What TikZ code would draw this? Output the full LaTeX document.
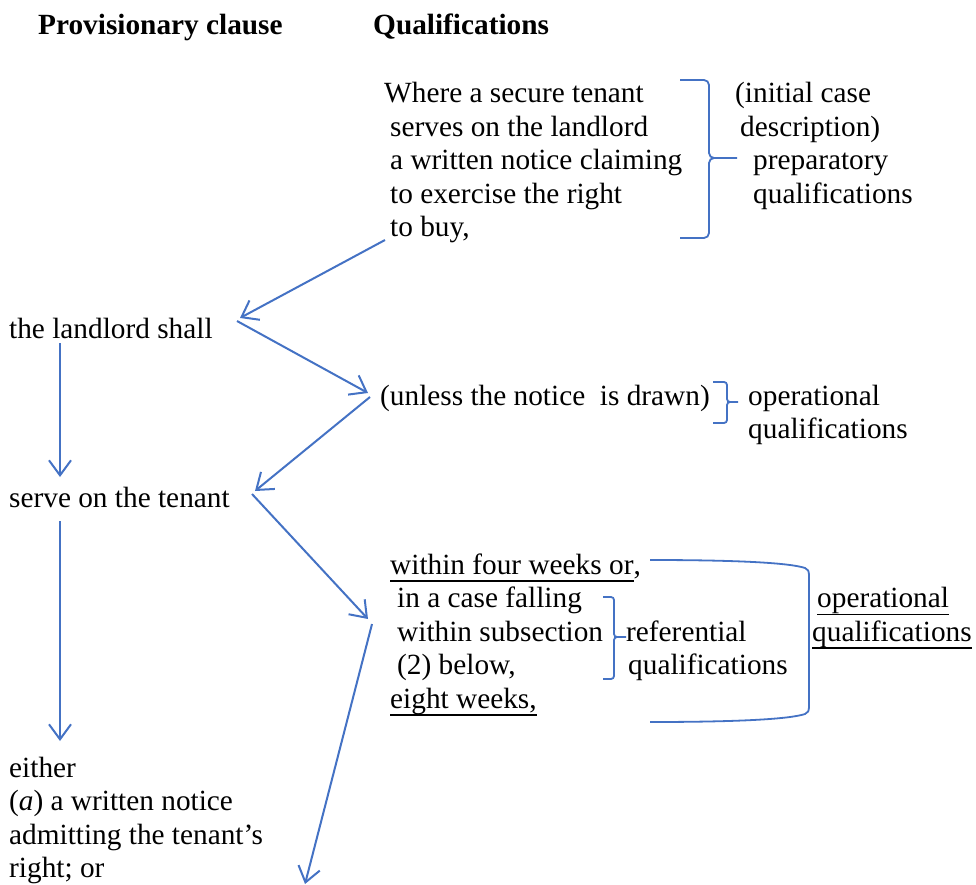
\documentclass[tikz,border=0pt]{standalone}
\usepackage{fontspec}
\setmainfont{Liberation Serif}
\usetikzlibrary{arrows.meta}
\definecolor{qblue}{RGB}{68,114,196}
% underline at a fixed depth below the baseline
\newcommand\uln[1]{\leavevmode\setbox0\hbox{#1}\rlap{\rule[-7.8pt]{\wd0}{1.8pt}}\box0}
\tikzset{
  txt/.style={anchor=base west, inner sep=0pt, font=\fontsize{29.3}{33.5}\selectfont},
  head/.style={txt, font=\fontsize{29.3}{33.5}\selectfont\bfseries},
  arr/.style={draw=qblue, line width=2pt, -{Straight Barb[length=15pt,width=22pt]}},
  brace/.style={draw=qblue, line width=1.8pt, rounded corners=5pt},
}
\begin{document}
\begin{tikzpicture}[x=1pt, y=-1pt]
\useasboundingbox (0,0) rectangle (976,885);

% column headings
\node[head] (h1) at (38,35) {Provisionary clause};
\node[head] (h2) at (373,35) {Qualifications};

% initial case description
\node[txt] (w1) at (384,103) {Where a secure tenant};
\node[txt] (w2) at (390,136.4) {serves on the landlord};
\node[txt] (w3) at (390,169.8) {a written notice claiming};
\node[txt] (w4) at (390,203.2) {to exercise the right};
\node[txt] (w5) at (390,236.6) {to buy,};
\node[txt] (p1) at (735,103) {(initial case};
\node[txt] (p2) at (740,136.4) {description)};
\node[txt] (p3) at (753,169.8) {preparatory};
\node[txt] (p4) at (753,203.2) {qualifications};

% provisionary clause
\node[txt] (l1) at (9,338) {the landlord shall};
\node[txt] (l2) at (9,507) {serve on the tenant};
\node[txt] (e1) at (9,777) {either};
\node[txt] (e2) at (9,810.6) {(\textit{a}) a written notice};
\node[txt] (e3) at (9,844.2) {admitting the tenant’s};
\node[txt] (e4) at (9,877.8) {right; or};

% operational qualification
\node[txt] (u1) at (380,405) {(unless the notice\ \ is drawn)};
\node[txt] (o1) at (748,405) {operational};
\node[txt] (o2) at (748,438.5) {qualifications};

% time limits
\node[txt] (t1) at (390,574) {\uln{within four weeks or},};
\node[txt] (t2) at (397,607.5) {in a case falling};
\node[txt] (t3) at (397,641) {within subsection};
\node[txt] (t4) at (397,674.5) {(2) below,};
\node[txt] (t5) at (390,708) {\uln{eight weeks,}};
\node[txt] (r1) at (626,641) {referential};
\node[txt] (r2) at (628,674.5) {qualifications};
\node[txt] (q1) at (817,607.5) {\uln{operational}};
\node[txt] (q2) at (812,641) {\uln{qualifications}};

% arrow end points
\coordinate (a1s) at (385,240);
\coordinate (a1e) at (240,318);
\coordinate (a2s) at (237,321);
\coordinate (a2e) at (368,393);
\coordinate (a3s) at (370,397);
\coordinate (a3e) at (255,491);
\coordinate (a4s) at (252,494);
\coordinate (a4e) at (368,619);
\coordinate (a5s) at (372,624);
\coordinate (a5e) at (305,884);
\coordinate (v1s) at (60,343);
\coordinate (v1e) at (60,477);
\coordinate (v2s) at (60,521);
\coordinate (v2e) at (60,741);

\draw[arr] (a1s) -- (a1e);
\draw[arr] (a2s) -- (a2e);
\draw[arr] (a3s) -- (a3e);
\draw[arr] (a4s) -- (a4e);
\draw[arr] (a5s) -- (a5e);
\draw[arr] (v1s) -- (v1e);
\draw[arr] (v2s) -- (v2e);

% braces
\draw[brace] (680,80) -- (709,80) -- (709,158) -- (737,158);
\draw[brace] (680,238) -- (709,238) -- (709,158) -- (716,158);

\draw[brace, rounded corners=3pt] (713,382) -- (727,382) -- (727,402) -- (738,402);
\draw[brace, rounded corners=3pt] (713,423) -- (727,423) -- (727,402) -- (731,402);

\draw[brace, rounded corners=3pt] (603,597) -- (614,597) -- (614,637) -- (626,637);
\draw[brace, rounded corners=3pt] (603,679) -- (614,679) -- (614,637) -- (618,637);

\draw[draw=qblue, line width=1.8pt]
  (650,560) .. controls (740,560) and (790,563) .. (805,568)
  .. controls (808,569) and (809,571) .. (809,576) -- (809,706)
  .. controls (809,711) and (808,713) .. (805,714)
  .. controls (790,719) and (740,722) .. (650,722);
\end{tikzpicture}
\end{document}
